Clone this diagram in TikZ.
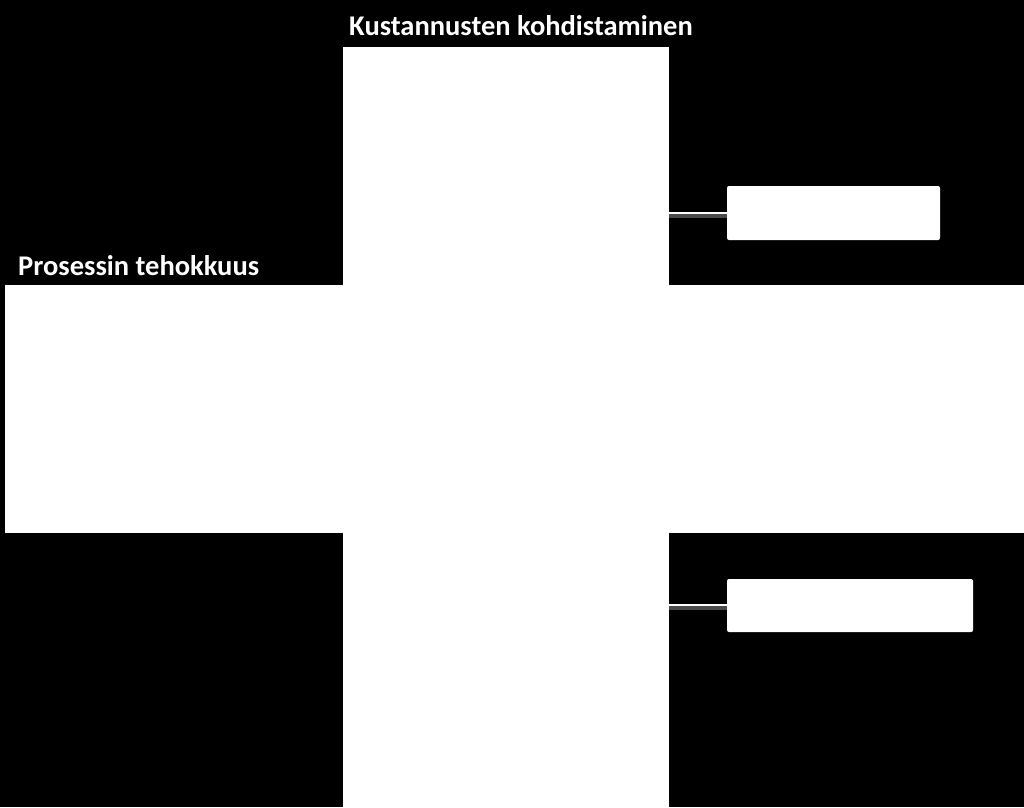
\documentclass[tikz,border=0pt]{standalone}
\usepackage{fontspec}
\setmainfont{Carlito}
\begin{document}
\begin{tikzpicture}[x=1pt,y=-1pt,
  bar/.style={fill=white,draw=none},
  smallbox/.style={fill=white,draw=none,rounded corners=2pt},
  lbl/.style={text=white,font=\bfseries\fontsize{28.5}{32}\selectfont,inner sep=0pt,anchor=base west},
  link/.style={draw=white,line width=2pt},
  linkshade/.style={draw=gray!60!black,line width=4pt}]
\fill[black] (0,0) rectangle (1024,807);
\useasboundingbox (0,0) rectangle (1024,807);
% cross
\path[bar] (343,47) rectangle (669,807);
\path[bar] (5,285) rectangle (1024,533);
% small boxes
\path[smallbox] (727,186) rectangle (940,240);
\path[smallbox] (727,579) rectangle (973,632);
\coordinate (b1) at (727,213);
\coordinate (b2) at (727,605);
\coordinate (v1) at (669,213);
\coordinate (v2) at (669,605);
\draw[linkshade] ([yshift=-3pt]v1) -- ([yshift=-3pt]b1);
\draw[link] (v1) -- (b1);
\draw[linkshade] ([yshift=-3pt]v2) -- ([yshift=-3pt]b2);
\draw[link] (v2) -- (b2);
% labels
\node[lbl] (t1) at (349,35) {Kustannusten kohdistaminen};
\node[lbl] (t2) at (18,275) {Prosessin tehokkuus};
\end{tikzpicture}
\end{document}
